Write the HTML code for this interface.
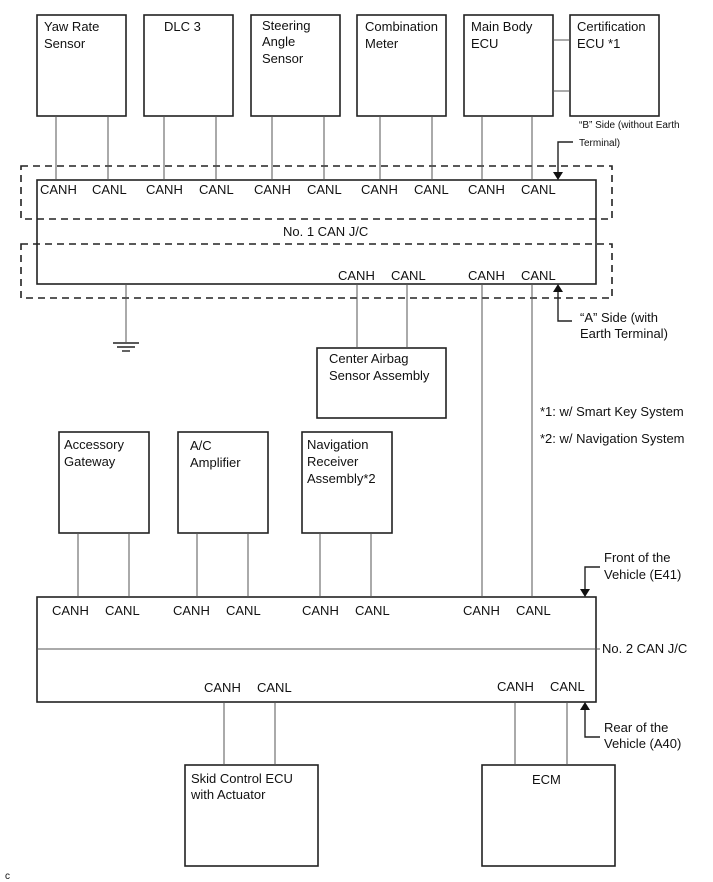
<!DOCTYPE html>
<html><head><meta charset="utf-8"><style>
html,body{margin:0;padding:0;background:#fff;}
svg{display:block;font-family:"Liberation Sans",Arial,sans-serif;}
text{font-size:13px;fill:#111;}
.s{font-size:10px;}
</style></head><body>
<svg width="713" height="882" viewBox="0 0 713 882" xmlns="http://www.w3.org/2000/svg">
<g fill="none" stroke="#222" stroke-width="1.6">
<rect x="37" y="15" width="89" height="101"/>
<rect x="144" y="15" width="89" height="101"/>
<rect x="251" y="15" width="89" height="101"/>
<rect x="357" y="15" width="89" height="101"/>
<rect x="464" y="15" width="89" height="101"/>
<rect x="570" y="15" width="89" height="101"/>
<rect x="37" y="180" width="559" height="104"/>
<rect x="317" y="348" width="129" height="70"/>
<rect x="59" y="432" width="90" height="101"/>
<rect x="178" y="432" width="90" height="101"/>
<rect x="302" y="432" width="90" height="101"/>
<rect x="37" y="597" width="559" height="105"/>
<rect x="185" y="765" width="133" height="101"/>
<rect x="482" y="765" width="133" height="101"/>
</g>
<g fill="none" stroke="#222" stroke-width="1.6" stroke-dasharray="7,5">
<rect x="21" y="166" width="591" height="53"/>
<rect x="21" y="244" width="591" height="54"/>
</g>
<g stroke="#555" stroke-width="1">
<line x1="56" y1="116" x2="56" y2="180"/><line x1="108" y1="116" x2="108" y2="180"/>
<line x1="164" y1="116" x2="164" y2="180"/><line x1="216" y1="116" x2="216" y2="180"/>
<line x1="272" y1="116" x2="272" y2="180"/><line x1="324" y1="116" x2="324" y2="180"/>
<line x1="380" y1="116" x2="380" y2="180"/><line x1="432" y1="116" x2="432" y2="180"/>
<line x1="482" y1="116" x2="482" y2="180"/><line x1="532" y1="116" x2="532" y2="180"/>
<line x1="553" y1="40" x2="570" y2="40"/><line x1="553" y1="91" x2="570" y2="91"/>
<line x1="126" y1="284" x2="126" y2="342"/>
<line x1="357" y1="284" x2="357" y2="348"/><line x1="407" y1="284" x2="407" y2="348"/>
<line x1="482" y1="284" x2="482" y2="597"/><line x1="532" y1="284" x2="532" y2="597"/>
<line x1="78" y1="533" x2="78" y2="597"/><line x1="129" y1="533" x2="129" y2="597"/>
<line x1="197" y1="533" x2="197" y2="597"/><line x1="248" y1="533" x2="248" y2="597"/>
<line x1="320" y1="533" x2="320" y2="597"/><line x1="371" y1="533" x2="371" y2="597"/>
<line x1="37" y1="649" x2="600" y2="649"/>
<line x1="224" y1="702" x2="224" y2="765"/><line x1="275" y1="702" x2="275" y2="765"/>
<line x1="515" y1="702" x2="515" y2="765"/><line x1="567" y1="702" x2="567" y2="765"/>
</g>
<g stroke="#222" stroke-width="1.4">
<line x1="113" y1="343" x2="139" y2="343"/><line x1="117" y1="347" x2="135" y2="347"/><line x1="122" y1="351" x2="130" y2="351"/>
<polyline points="573,142 558,142 558,174" fill="none"/>
<polyline points="572,321 558,321 558,290" fill="none"/>
<polyline points="600,567 585,567 585,591" fill="none"/>
<polyline points="600,737 585,737 585,708" fill="none"/>
</g>
<g fill="#111">
<polygon points="553,172 563,172 558,180"/>
<polygon points="553,292 563,292 558,284"/>
<polygon points="580,589 590,589 585,597"/>
<polygon points="580,710 590,710 585,702"/>
</g>
<text x="44" y="31">Yaw Rate</text><text x="44" y="48">Sensor</text>
<text x="164" y="31">DLC 3</text>
<text x="262" y="30">Steering</text><text x="262" y="46">Angle</text><text x="262" y="63">Sensor</text>
<text x="365" y="31">Combination</text><text x="365" y="48">Meter</text>
<text x="471" y="31">Main Body</text><text x="471" y="48">ECU</text>
<text x="577" y="31">Certification</text><text x="577" y="48">ECU *1</text>
<text class="s" x="579" y="128">“B” Side (without Earth</text>
<text class="s" x="579" y="146">Terminal)</text>
<g>
<text x="40" y="194">CANH</text><text x="92" y="194">CANL</text>
<text x="146" y="194">CANH</text><text x="199" y="194">CANL</text>
<text x="254" y="194">CANH</text><text x="307" y="194">CANL</text>
<text x="361" y="194">CANH</text><text x="414" y="194">CANL</text>
<text x="468" y="194">CANH</text><text x="521" y="194">CANL</text>
</g>
<text x="283" y="236">No. 1 CAN J/C</text>
<text x="338" y="280">CANH</text><text x="391" y="280">CANL</text>
<text x="468" y="280">CANH</text><text x="521" y="280">CANL</text>
<text x="580" y="322">“A” Side (with</text><text x="580" y="338">Earth Terminal)</text>
<text x="329" y="363">Center Airbag</text><text x="329" y="380">Sensor Assembly</text>
<text x="540" y="416">*1: w/ Smart Key System</text>
<text x="540" y="443">*2: w/ Navigation System</text>
<text x="64" y="449">Accessory</text><text x="64" y="466">Gateway</text>
<text x="190" y="450">A/C</text><text x="190" y="467">Amplifier</text>
<text x="307" y="449">Navigation</text><text x="307" y="466">Receiver</text><text x="307" y="483">Assembly*2</text>
<text x="604" y="562">Front of the</text><text x="604" y="579">Vehicle (E41)</text>
<text x="52" y="615">CANH</text><text x="105" y="615">CANL</text>
<text x="173" y="615">CANH</text><text x="226" y="615">CANL</text>
<text x="302" y="615">CANH</text><text x="355" y="615">CANL</text>
<text x="463" y="615">CANH</text><text x="516" y="615">CANL</text>
<text x="602" y="653">No. 2 CAN J/C</text>
<text x="204" y="692">CANH</text><text x="257" y="692">CANL</text>
<text x="497" y="691">CANH</text><text x="550" y="691">CANL</text>
<text x="604" y="732">Rear of the</text><text x="604" y="748">Vehicle (A40)</text>
<text x="191" y="783">Skid Control ECU</text><text x="191" y="799">with Actuator</text>
<text x="532" y="784">ECM</text>
<text class="s" x="5" y="879">c</text>
</svg>
</body></html>
